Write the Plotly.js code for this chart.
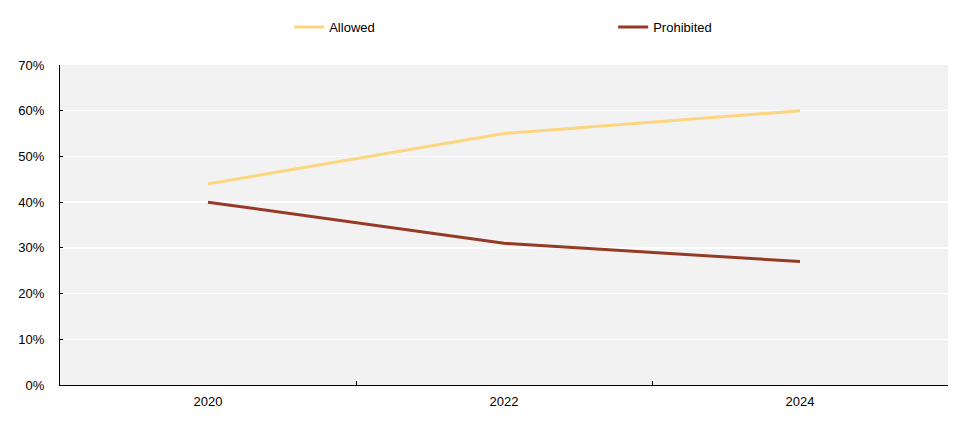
<!DOCTYPE html>
<html>
<head>
<meta charset="utf-8">
<script src="https://cdn.plot.ly/plotly-3.0.1.min.js"></script>
<style>html,body{margin:0;padding:0;background:#fff;}#chart{width:964px;height:434px;}</style>
</head>
<body>
<div id="chart"></div>
<script>
const years = ["2020", "2022", "2024"];
const allowed = [0.44, 0.55, 0.60];
const prohibited = [0.40, 0.31, 0.27];
const yTicks = [0, 0.1, 0.2, 0.3, 0.4, 0.5, 0.6, 0.7];

const traces = [
  {x: years, y: allowed, name: "Allowed", type: "scatter", mode: "lines",
   line: {color: "#FDD57E", width: 3}},
  {x: years, y: prohibited, name: "Prohibited", type: "scatter", mode: "lines",
   line: {color: "#943A25", width: 3}}
];

const layout = {
  width: 964, height: 434,
  margin: {l: 60, r: 16, t: 65, b: 49},
  paper_bgcolor: "#ffffff",
  plot_bgcolor: "#F2F2F2",
  font: {family: "Liberation Sans, Arial, sans-serif", size: 13, color: "#000"},
  showlegend: true,
  legend: {orientation: "h", xref: "container", yref: "container", x: 0.3, y: 0.972,
           xanchor: "left", yanchor: "top", entrywidth: 279, entrywidthmode: "pixels",
           font: {size: 13, color: "#000"}, bgcolor: "rgba(0,0,0,0)"},
  xaxis: {type: "category", range: [-0.5, 2.5], tickson: "boundaries",
          ticks: "inside", ticklen: 4, tickcolor: "#000", tickwidth: 1,
          showline: true, linecolor: "#000", linewidth: 1,
          showgrid: false, zeroline: false, ticklabelstandoff: 4,
          fixedrange: true},
  yaxis: {range: [0, 0.7], tickvals: yTicks, tickformat: ".0%",
          ticks: "inside", ticklen: 3, tickcolor: "#000", tickwidth: 1,
          showline: true, linecolor: "#000", linewidth: 1,
          showgrid: true, gridcolor: "#ffffff", gridwidth: 1.5,
          zeroline: false, ticklabelstandoff: 12, fixedrange: true}
};

Plotly.newPlot("chart", traces, layout, {displayModeBar: false, staticPlot: true});
</script>
</body>
</html>
